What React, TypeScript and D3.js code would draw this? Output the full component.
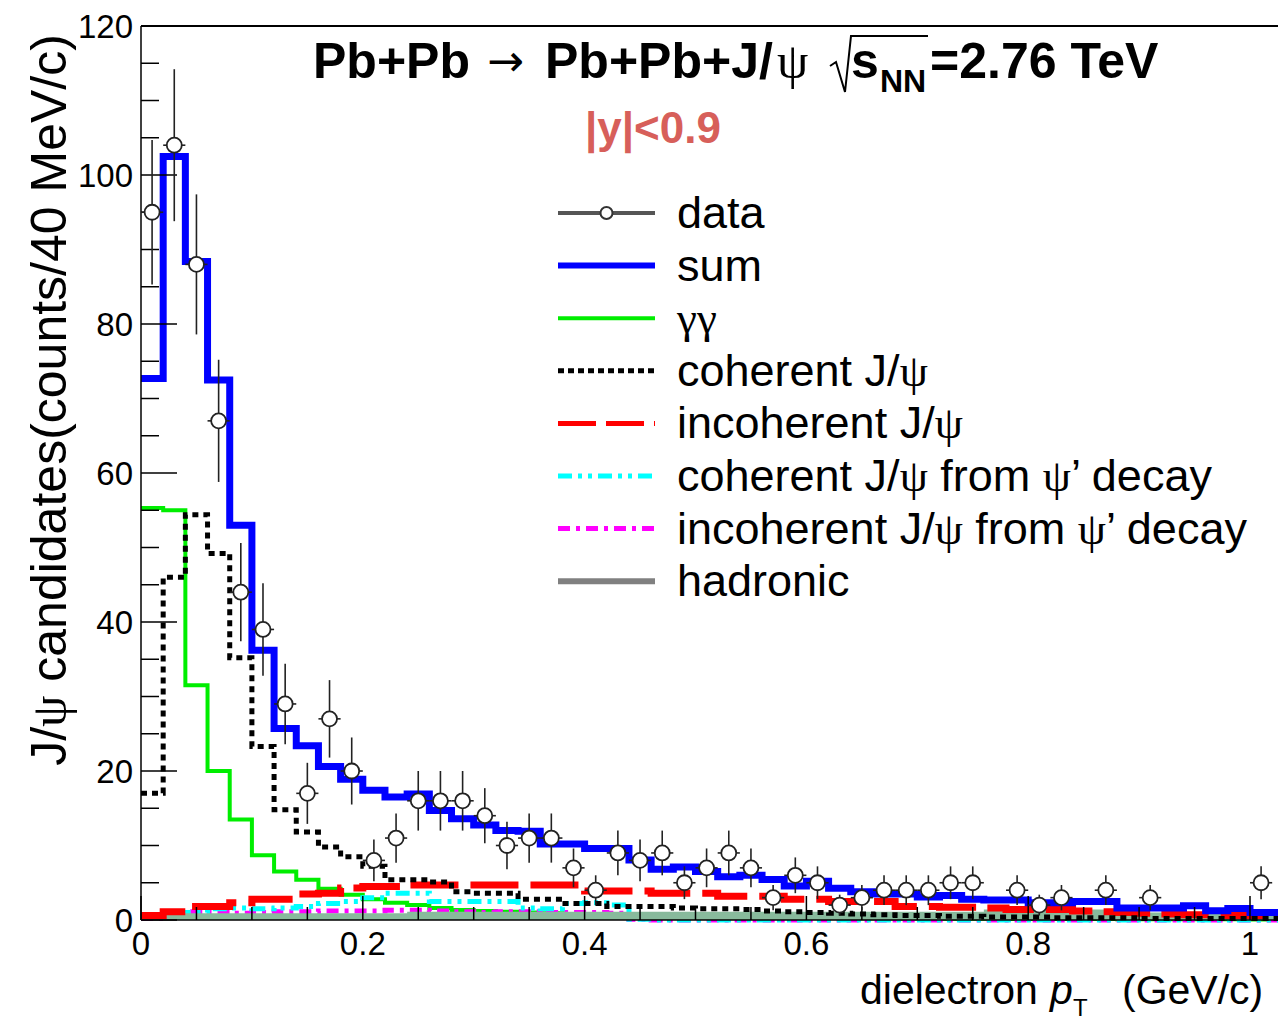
import React from 'react';
import * as d3 from 'd3';

const WIDTH = 1278;
const HEIGHT = 1024;
const FONT = "'Liberation Sans', Arial, sans-serif";
const GREEK = "'Liberation Serif', 'DejaVu Serif', serif";
const BIN = 0.02;

// data, one value per 0.02 GeV/c bin starting at 0 (empty bins are not drawn)
const dataCounts = [95, 104, 88, 67, 44, 39, 29, 17, 27, 20, 8, 11, 16, 16, 16, 14, 10, 11, 11, 7, 4, 9, 8, 9, 5, 7, 9, 7, 3, 6, 5, 2, 3, 4, 4, 4, 5, 5, 0, 4, 2, 3, 0, 4, 0, 3, 0, 0, 0, 0, 5];
const dataErrors = [9.7, 10.2, 9.4, 8.2, 6.6, 6.2, 5.4, 4.1, 5.2, 4.5, 2.8, 3.3, 4, 4, 4, 3.7, 3.2, 3.3, 3.3, 2.6, 2, 3, 2.8, 3, 2.2, 2.6, 3, 2.6, 1.7, 2.4, 2.2, 1.4, 1.7, 2, 2, 2, 2.2, 2.2, 0, 2, 1.4, 1.7, 0, 2, 0, 1.7, 0, 0, 0, 0, 2.2];

// model histograms
const sumModel = [72.7, 102.5, 88.4, 72.5, 53.0, 36.2, 25.7, 23.4, 20.6, 18.9, 17.4, 16.5, 16.9, 14.7, 13.6, 12.75, 12.0, 11.9, 10.2, 10.2, 9.6, 9.6, 8.05, 6.8, 7.1, 6.5, 5.8, 6.0, 5.45, 4.56, 5.2, 4.25, 3.8, 3.5, 3.5, 3.1, 3.3, 2.8, 2.7, 2.7, 2.3, 2.3, 2.5, 2.5, 1.6, 1.6, 1.6, 1.9, 1.25, 1.55, 1.0, 1.0];
const gammaGamma = [55.3, 55.0, 31.5, 20.0, 13.5, 8.7, 6.5, 5.4, 4.2, 3.4, 2.8, 2.3, 2.0, 1.6, 1.35, 1.2, 1.1, 1.0, 0.9, 0.8, 0.7, 0.6, 0.55, 0.5, 0.45, 0.4, 0.38, 0.35, 0.32, 0.3, 0.28, 0.26, 0.24, 0.22, 0.2, 0.2, 0.18, 0.17, 0.16, 0.15, 0.14, 0.13, 0.12, 0.12, 0.11, 0.1, 0.1, 0.1, 0.09, 0.09, 0.08, 0.08];
const coherent = [17, 46, 54.4, 49.2, 35.2, 23.3, 14.8, 11.8, 9.8, 8.5, 7.2, 5.4, 5.4, 5.1, 3.8, 3.6, 3.6, 2.8, 2.8, 2.2, 2.2, 1.8, 1.8, 1.8, 1.6, 1.5, 1.5, 1.4, 1.2, 1.1, 1.0, 0.9, 0.8, 0.7, 0.6, 0.6, 0.5, 0.5, 0.4, 0.4, 0.4, 0.3, 0.3, 0.3, 0.3, 0.2, 0.2, 0.2, 0.2, 0.2, 0.2, 0.2];
const incoherent = [0.6, 1.1, 1.8, 1.8, 2.3, 2.8, 2.8, 3.5, 3.6, 4.3, 4.5, 4.5, 4.7, 4.7, 4.7, 4.7, 4.7, 4.7, 4.7, 4.7, 3.9, 3.9, 3.9, 3.6, 3.6, 3.6, 3.2, 3.2, 3.2, 2.8, 2.8, 2.5, 2.5, 2.5, 1.8, 1.8, 1.7, 1.7, 1.6, 1.4, 1.4, 1.4, 1.2, 1.1, 1.0, 0.9, 0.8, 0.7, 0.7, 0.6, 0.6, 0.6];
const coherentPsi2S = [0.4, 0.8, 1.0, 1.5, 1.6, 1.5, 1.6, 1.8, 2.2, 2.5, 3.0, 3.6, 3.6, 2.5, 2.5, 2.5, 2.5, 1.6, 1.5, 2.2, 2.3, 2.0, 0.1, 0, 0, 0, 0, 0, 0, 0, 0, 0, 0, 0, 0, 0, 0, 0, 0, 0, 0, 0, 0, 0, 0, 0, 0, 0, 0, 0, 0, 0];
const incoherentPsi2S = [0.2, 1.1, 1.1, 1.0, 0.9, 1.0, 1.1, 1.1, 1.2, 1.2, 1.2, 1.3, 1.3, 1.2, 1.1, 1.0, 1.1, 1.1, 1.0, 1.0, 1.0, 0.9, 0.1, 0, 0, 0, 0, 0, 0, 0, 0, 0, 0, 0, 0, 0, 0, 0, 0, 0, 0, 0, 0, 0, 0, 0, 0, 0, 0, 0, 0, 0];
const hadronic = [0.9, 0.9, 0.9, 0.9, 0.9, 0.9, 0.9, 0.9, 0.9, 0.9, 0.9, 0.9, 1.1, 1.1, 1.1, 1.1, 1.1, 1.1, 1.1, 1.1, 1.1, 1.1, 1.1, 1.1, 1.1, 1.1, 1.1, 1.1, 1.1, 1.1, 1.1, 1.1, 1.1, 1.1, 1.1, 1.1, 1.1, 1.1, 1.4, 1.4, 1.4, 1.4, 1.4, 1.4, 1.0, 1.0, 1.0, 1.0, 1.0, 1.0, 1.0, 1.0];

const xMajorTicks = [0, 0.2, 0.4, 0.6, 0.8, 1];
const xTickLabels = ['0', '0.2', '0.4', '0.6', '0.8', '1'];
const yMajorTicks = [0, 20, 40, 60, 80, 100, 120];

const x = d3.scaleLinear().domain([0, 1.04]).range([141, 141 + 1.04 * 1109]);
const y = d3.scaleLinear().domain([0, 120]).range([920, 26]);

const stepPoints = (values: number[]) => {
  const pts: [number, number][] = values.map((v, i) => [i * BIN, v]);
  pts.push([values.length * BIN, values[values.length - 1]]);
  return pts;
};

const stepPath = (values: number[]) =>
  d3.line<[number, number]>()
    .x(d => x(d[0]))
    .y(d => y(d[1]))
    .curve(d3.curveStepAfter)(stepPoints(values)) as string;

const stepArea = (values: number[]) =>
  d3.area<[number, number]>()
    .x(d => x(d[0]))
    .y0(y(0))
    .y1(d => y(d[1]))
    .curve(d3.curveStepAfter)(stepPoints(values)) as string;

const G = ({ children }: { children: React.ReactNode }) => <tspan fontFamily={GREEK}>{children}</tspan>;

const legendEntries = [
  { label: <>data</>, stroke: '#555', width: 4, dash: undefined },
  { label: <>sum</>, stroke: '#0000ff', width: 6, dash: undefined },
  { label: <G>γγ</G>, stroke: '#00ee00', width: 4, dash: undefined },
  { label: <>coherent J/<G>ψ</G></>, stroke: '#000', width: 5, dash: '6 4' },
  { label: <>incoherent J/<G>ψ</G></>, stroke: '#ff0000', width: 5, dash: '38 10' },
  { label: <>coherent J/<G>ψ</G> from <G>ψ</G>’ decay</>, stroke: '#00ffff', width: 5, dash: '14 6 4 6 4 6' },
  { label: <>incoherent J/<G>ψ</G> from <G>ψ</G>’ decay</>, stroke: '#ff00ff', width: 5, dash: '12 6 4 6' },
  { label: <>hadronic</>, stroke: '#808080', width: 6, dash: undefined },
];

const Legend = () => {
  const x0 = 558;
  const x1 = 655;
  const top = 213;
  const step = 52.6;
  return (
    <g>
      {legendEntries.map((e, i) => {
        const cy = top + i * step;
        return (
          <g key={i}>
            <line x1={x0} x2={x1} y1={cy} y2={cy} stroke={e.stroke} strokeWidth={e.width} strokeDasharray={e.dash} />
            {i === 0 && <circle cx={(x0 + x1) / 2} cy={cy} r={6} fill="#fff" stroke="#333" strokeWidth={2} />}
            <text x={677} y={cy + 15} fontSize={45} fontFamily={FONT} fill="#000">{e.label}</text>
          </g>
        );
      })}
    </g>
  );
};

export default function App() {
  const xMinor = d3.range(0, 1.04, 0.05).filter(v => !xMajorTicks.some(t => Math.abs(t - v) < 1e-6));
  const yMinor = d3.range(0, 121, 5).filter(v => v % 20 !== 0);
  const half = BIN / 2;

  return (
    <svg width={WIDTH} height={HEIGHT} style={{ position: 'absolute', left: 0, top: 0, background: '#fff' }}>
      <defs>
        <clipPath id="plot">
          <rect x={141} y={26} width={WIDTH - 141} height={897} />
        </clipPath>
      </defs>

      <g clipPath="url(#plot)">
        <path d={stepPath(gammaGamma)} fill="none" stroke="#00ee00" strokeWidth={4} />
        <path d={stepPath(incoherentPsi2S)} fill="none" stroke="#ff00ff" strokeWidth={5} strokeDasharray="12 6 4 6" />
        <path d={stepPath(coherentPsi2S)} fill="none" stroke="#00ffff" strokeWidth={5} strokeDasharray="14 6 4 6 4 6" />
        <path d={stepArea(hadronic)} fill="#88ba9c" />
        <path d={stepPath(incoherent)} fill="none" stroke="#ff0000" strokeWidth={7} strokeDasharray="48 12" />
        <path d={stepPath(coherent)} fill="none" stroke="#000" strokeWidth={5} strokeDasharray="6 5" />
        <path d={stepPath(sumModel)} fill="none" stroke="#0000ff" strokeWidth={7} />
      </g>

      {/* frame and axes */}
      <line x1={141} x2={WIDTH} y1={26} y2={26} stroke="#000" strokeWidth={2} />
      <line x1={141} x2={141} y1={26} y2={920} stroke="#000" strokeWidth={1.5} />
      <line x1={141} x2={WIDTH} y1={920} y2={920} stroke="#000" strokeWidth={1.5} />

      {yMajorTicks.map(t => (
        <g key={'ym' + t}>
          <line x1={141} x2={177} y1={y(t)} y2={y(t)} stroke="#000" strokeWidth={1.5} />
          <text x={133} y={y(t) + 12} textAnchor="end" fontSize={33} fontFamily={FONT}>{t}</text>
        </g>
      ))}
      {yMinor.map(t => (
        <line key={'yn' + t} x1={141} x2={159} y1={y(t)} y2={y(t)} stroke="#000" strokeWidth={1.5} />
      ))}

      {xMajorTicks.map((t, i) => (
        <g key={'xm' + t}>
          <line x1={x(t)} x2={x(t)} y1={920} y2={896} stroke="#000" strokeWidth={1.5} />
          <text x={x(t)} y={955} textAnchor="middle" fontSize={33} fontFamily={FONT}>{xTickLabels[i]}</text>
        </g>
      ))}
      {xMinor.map(t => (
        <line key={'xn' + t} x1={x(t)} x2={x(t)} y1={920} y2={907} stroke="#000" strokeWidth={1.5} />
      ))}

      {/* data points */}
      <g>
        {dataCounts.map((c, i) => {
          if (c <= 0) return null;
          const cx = x(i * BIN + half);
          const cy = y(c);
          return (
            <g key={'d' + i}>
              <line x1={cx} x2={cx} y1={y(c - dataErrors[i])} y2={y(c + dataErrors[i])} stroke="#222" strokeWidth={1.6} />
              <line x1={x(i * BIN)} x2={x(i * BIN + BIN)} y1={cy} y2={cy} stroke="#222" strokeWidth={1.6} />
              <circle cx={cx} cy={cy} r={7.5} fill="#fff" stroke="#222" strokeWidth={1.8} />
            </g>
          );
        })}
      </g>

      {/* title */}
      <g fontFamily={FONT} fontWeight="bold" fontSize={50} fill="#000">
        <text x={313} y={78}>Pb+Pb</text>
        <text x={487} y={76} fontWeight="normal" fontSize={44} fontFamily="'DejaVu Sans', sans-serif">→</text>
        <text x={545} y={78}>Pb+Pb+J/</text>
        <text x={777} y={78} fontWeight="normal" fontFamily={GREEK}>ψ</text>
        <path d="M830 66 L836 62 L845 92 L851 36 L928 36" fill="none" stroke="#000" strokeWidth={2} />
        <text x={851} y={78}>s</text>
        <text x={880} y={92} fontSize={32}>NN</text>
        <text x={930} y={78}>=2.76 TeV</text>
      </g>
      <text x={585} y={143} fontFamily={FONT} fontWeight="bold" fontSize={44} fill="#d75f5a">|y|&lt;0.9</text>

      <Legend />

      {/* axis titles */}
      <text transform="translate(66, 400) rotate(-90)" textAnchor="middle" fontSize={50} fontFamily={FONT}>
        J/<tspan fontFamily={GREEK}>ψ</tspan> candidates(counts/40 MeV/c)
      </text>
      <g fontFamily={FONT} fontSize={41}>
        <text x={860} y={1004}>dielectron</text>
        <text x={1050} y={1004} fontStyle="italic">p</text>
        <text x={1073} y={1016} fontSize={24}>T</text>
        <text x={1122} y={1004}>(GeV/c)</text>
      </g>
    </svg>
  );
}
